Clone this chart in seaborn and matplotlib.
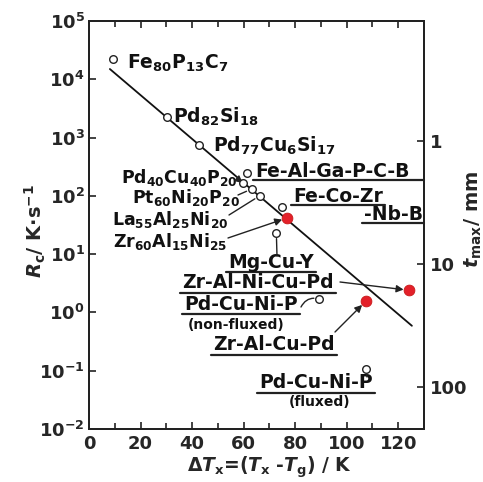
import matplotlib
matplotlib.use("Agg")
import matplotlib.pyplot as plt
import seaborn as sns
from matplotlib.ticker import MultipleLocator, NullLocator, FixedLocator, FixedFormatter
from matplotlib.lines import Line2D

# ---------------- data ----------------
open_names = ["Fe80P13C7", "Pd82Si18", "Pd77Cu6Si17", "Pd40Cu40P20", "Fe-Al-Ga-P-C-B",
              "Pt60Ni20P20", "La55Al25Ni20", "Fe-Co-Zr-Nb-B", "Mg-Cu-Y",
              "Pd-Cu-Ni-P (non-fluxed)", "Pd-Cu-Ni-P (fluxed)"]
open_dTx = [9.3, 30.2, 42.6, 59.6, 61.5, 63.1, 66.2, 75.0, 72.7, 89.4, 107.5]
open_Rc = [2.2e4, 2250, 750, 166, 247, 131, 100, 64, 23, 1.7, 0.107]

red_names = ["Zr60Al15Ni25", "Zr-Al-Ni-Cu-Pd", "Zr-Al-Cu-Pd"]
red_dTx = [77.0, 124.2, 107.5]
red_Rc = [42, 2.4, 1.57]

fit_dTx = [8.1, 125.3]
fit_Rc = [1.5e4, 0.59]

x_ticks = [0, 20, 40, 60, 80, 100, 120]
y_ticks = [1e-2, 1e-1, 1e0, 1e1, 1e2, 1e3, 1e4, 1e5]
y_ticklabels = [r"$\mathbf{10^{-2}}$", r"$\mathbf{10^{-1}}$", r"$\mathbf{10^{0}}$", r"$\mathbf{10^{1}}$",
                r"$\mathbf{10^{2}}$", r"$\mathbf{10^{3}}$", r"$\mathbf{10^{4}}$", r"$\mathbf{10^{5}}$"]
tmax_ticks = [1, 10, 100]
tmax_ticklabels = ["1", "10", "100"]

# ---------------- style ----------------
sns.set_theme(style="ticks")
plt.rcParams.update({
    "font.family": ["DejaVu Sans"],
    "font.weight": "bold",
    "axes.labelweight": "bold",
    "mathtext.fontset": "custom",
    "mathtext.rm": "DejaVu Sans:bold",
    "mathtext.bf": "DejaVu Sans:bold",
    "mathtext.it": "DejaVu Sans:italic:bold",
    "mathtext.sf": "DejaVu Sans:bold",
    "mathtext.default": "bf",
    "axes.linewidth": 1.4,
    "axes.edgecolor": "#222222",
    "text.color": "#111111",
})

W, H = 483, 482
fig = plt.figure(figsize=(W / 100, H / 100), dpi=100)
ax = fig.add_axes([89 / W, (H - 429) / H, 335 / W, 408 / H])


def A(px, py):
    """reference-pixel layout position -> axes fraction"""
    return ((px - 89) / 335.0, (429 - py) / 408.0)


sns.lineplot(x=fit_dTx, y=fit_Rc, ax=ax, color="#111111", lw=1.3)
sns.scatterplot(x=open_dTx, y=open_Rc, ax=ax, marker="o", s=30, color="white",
                edgecolor="#222222", linewidth=1.0, zorder=5)
sns.scatterplot(x=red_dTx, y=red_Rc, ax=ax, marker="o", s=60, color="#e3202a",
                edgecolor="#c81818", linewidth=0.6, zorder=6)

ax.set_yscale("log")
ax.set_xlim(0, 130)
ax.set_ylim(1e-2, 1e5)
ax.xaxis.set_major_locator(FixedLocator(x_ticks))
ax.xaxis.set_minor_locator(MultipleLocator(10))
ax.yaxis.set_major_locator(FixedLocator(y_ticks))
ax.yaxis.set_major_formatter(FixedFormatter(y_ticklabels))
ax.yaxis.set_minor_locator(NullLocator())
ax.tick_params(which="both", direction="in", top=True, right=False, labelsize=13,
               width=1.2, color="#222222")
ax.tick_params(which="major", length=5, pad=4)
ax.tick_params(which="minor", length=4)
ax.tick_params(axis="y", pad=3)

ax2 = ax.twinx()
ax2.set_yscale("log")
ax2.set_ylim(219.4, 0.1058)
ax2.yaxis.set_major_locator(FixedLocator(tmax_ticks))
ax2.yaxis.set_major_formatter(FixedFormatter(tmax_ticklabels))
ax2.yaxis.set_minor_locator(NullLocator())
ax2.tick_params(which="major", direction="in", length=5, width=1.2, labelsize=13, pad=4,
                color="#222222")
for s in ax2.spines.values():
    s.set_linewidth(1.4)

ax.set_xlabel(r"$\mathit{\Delta T}_{\mathbf{x}}$=($\mathit{T}_{\mathbf{x}}$ -$\mathit{T}_{\mathbf{g}}$) / K",
              fontsize=13.5)
ax.xaxis.set_label_coords(*A(270, 467))
ax.xaxis.label.set_va("center")
ax.set_ylabel(r"$\mathit{R}_{\mathbf{c}}$/ K$\cdot$s$^{\mathbf{-1}}$", fontsize=14)
ax.yaxis.set_label_coords(*A(35, 231))
ax.yaxis.label.set_va("center")
ax2.set_ylabel(r"$\mathit{t}_{\mathbf{max}}$/ mm", fontsize=14, rotation=90)
ax2.yaxis.set_label_coords(*A(473, 219))
ax2.yaxis.label.set_va("center")

LBL = 13.5
LBL_S = 12.5
SML = 10
TC = "#111111"

plain = [
    (r"Fe$_{80}$P$_{13}$C$_{7}$", 127, 63, "left", LBL),
    (r"Pd$_{82}$Si$_{18}$", 173, 117, "left", LBL),
    (r"Pd$_{77}$Cu$_{6}$Si$_{17}$", 213, 146, "left", LBL),
    (r"Pd$_{40}$Cu$_{40}$P$_{20}$", 238, 177, "right", LBL_S),
    (r"Pt$_{60}$Ni$_{20}$P$_{20}$", 240, 198, "right", LBL_S),
    (r"La$_{55}$Al$_{25}$Ni$_{20}$", 228, 219, "right", LBL_S),
    (r"Zr$_{60}$Al$_{15}$Ni$_{25}$", 227, 241, "right", LBL_S),
]
for s, px, py, ha, fs in plain:
    ax.text(*A(px, py), s, transform=ax.transAxes, ha=ha, va="center", fontsize=fs,
            fontweight="bold", color=TC)

# underlined labels: text, x, y, ha, underline y, extend-to-spine flag
under = [
    ("Fe-Al-Ga-P-C-B", 255, 171, "left", 180, True),
    ("Fe-Co-Zr", 293, 196, "left", 205, False),
    ("-Nb-B", 423, 215, "right", 223, True),
    ("Mg-Cu-Y", 271, 262, "center", 272, False),
    ("Zr-Al-Ni-Cu-Pd", 334, 283, "right", 293, False),
    ("Pd-Cu-Ni-P", 298, 305, "right", 314, False),
    ("Zr-Al-Cu-Pd", 335, 345, "right", 355, False),
    ("Pd-Cu-Ni-P", 316, 383, "center", 393, False),
]
under_texts = []
for s, px, py, ha, uy, ext in under:
    t = ax.text(*A(px, py), s, transform=ax.transAxes, ha=ha, va="center", fontsize=LBL,
                fontweight="bold", color=TC)
    under_texts.append((t, uy, ext))

ax.text(*A(236, 325), "(non-fluxed)", transform=ax.transAxes, ha="center", va="center",
        fontsize=SML, fontweight="bold", color=TC)
ax.text(*A(320, 402), "(fluxed)", transform=ax.transAxes, ha="center", va="center",
        fontsize=SML, fontweight="bold", color=TC)

# connectors: (start px, py), target point, arrowstyle
arrow_kw = dict(lw=1.0, color="#222222")
conns = [
    ((239, 180), (open_dTx[3], open_Rc[3]), "-|>"),
    ((238, 195), (open_dTx[5], open_Rc[5]), "-"),
    ((229, 215), (open_dTx[6], open_Rc[6]), "-"),
    ((228, 238), (red_dTx[0], red_Rc[0]), "-|>"),
    ((277, 256), (open_dTx[8], open_Rc[8]), "-"),
    ((340, 282), (red_dTx[1], red_Rc[1]), "-|>"),
    ((335, 332), (red_dTx[2], red_Rc[2]), "-|>"),
    ((367, 377), (open_dTx[10], open_Rc[10]), "-"),
]
for (px, py), xy, style in conns:
    ax.annotate("", xy=xy, xycoords="data", xytext=A(px, py), textcoords="axes fraction",
                arrowprops=dict(arrowstyle=style if style == "-" else "-|>,head_length=0.35,head_width=0.18",
                                shrinkA=0, shrinkB=4, **arrow_kw))
ax.annotate("", xy=(open_dTx[9], open_Rc[9]), xycoords="data", xytext=A(301, 307),
            textcoords="axes fraction",
            arrowprops=dict(arrowstyle="-", connectionstyle="arc3,rad=-0.4", shrinkA=0,
                            shrinkB=4, **arrow_kw))

# underlines under the rendered text extents
fig.canvas.draw()
inv = ax.transAxes.inverted()
for t, uy, ext in under_texts:
    bb = t.get_window_extent()
    x0 = inv.transform((bb.x0 - 2, 0))[0]
    x1 = 1.0 if ext else inv.transform((bb.x1 + 2, 0))[0]
    yy = A(0, uy)[1]
    ax.add_line(Line2D([x0, x1], [yy, yy], transform=ax.transAxes, lw=1.6, color="#222222",
                       clip_on=False))

fig.savefig("out.png", dpi=100)
